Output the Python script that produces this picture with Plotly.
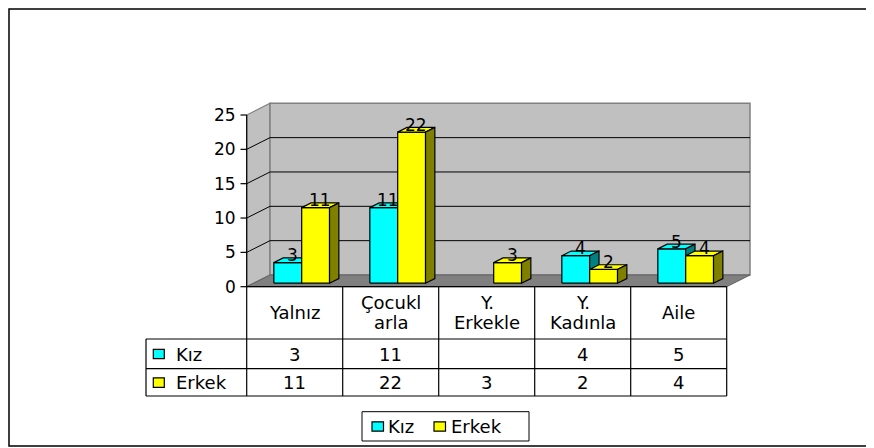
import plotly.graph_objects as go

# ---------------- data ----------------
categories = ["Yalnız", "Çocukl<br>arla", "Y.<br>Erkekle", "Y.<br>Kadınla", "Aile"]
series_names = ["Kız", "Erkek"]
kiz = [3, 11, None, 4, 5]
erkek = [11, 22, 3, 2, 4]
y_ticks = [0, 5, 10, 15, 20, 25]
y_max = 25

face_colors = ["#00FFFF", "#FFFF00"]
side_colors = ["#008080", "#808000"]
series_values = [kiz, erkek]

# ---------------- geometry (window pixels -> data units) ----------------
WIN_W, WIN_H = 874, 448
PAGE_OFF = 8                 # default body margin of the html page
W, H = WIN_W - PAGE_OFF, WIN_H - PAGE_OFF
X0, Y0 = 246.7, 286.7        # front axis origin (window pixels)
CAT, VAL = 96.0, 6.868       # pixels per category / per value unit


def X(px):
    return (px - X0) / CAT


def Y(py):
    return (Y0 - py) / VAL


DX = 23.3 / CAT              # depth of the 3D box
DY = 11.7 / VAL
BAR_W = 0.29
GROUP_START = (1 - 2 * BAR_W) / 2
F_OFF = 0.3                  # bar front offset (fraction of depth)
B_DEP = 0.4                  # bar depth (fraction of depth)
FONT = "DejaVu Sans"
FS = 17
FS_TABLE = 18
LINE_GAP = 19.7              # px between header text lines

fig = go.Figure()


def poly(xs, ys, fill, line_color="black", width=1.2):
    fig.add_trace(go.Scatter(
        x=list(xs) + [xs[0]], y=list(ys) + [ys[0]], mode="lines",
        fill="toself", fillcolor=fill,
        line=dict(color=line_color, width=width),
        hoverinfo="skip", showlegend=False))


def line(x0, y0, x1, y1, color="black", width=1.2):
    fig.add_shape(type="line", xref="x", yref="y", x0=x0, y0=y0, x1=x1, y1=y1,
                  line=dict(color=color, width=width), layer="above")


def text(x, y, s, xanchor="center", size=FS, xshift=0, yshift=0):
    fig.add_annotation(x=x, y=y, xref="x", yref="y", text=s, showarrow=False,
                       xanchor=xanchor, yanchor="middle", xshift=xshift, yshift=yshift,
                       font=dict(family=FONT, size=size, color="black"))


n = len(categories)

# outer frame
fig.add_shape(type="rect", xref="x", yref="y", x0=X(9), x1=X(900), y0=Y(446), y1=Y(9),
              line=dict(color="black", width=1.5), fillcolor="rgba(0,0,0,0)", layer="below")

# walls and floor
poly([0, DX, DX, 0], [0, DY, y_max + DY, y_max], "#C0C0C0", "#808080", 1.2)
poly([DX, n + DX, n + DX, DX], [DY, DY, y_max + DY, y_max + DY], "#C0C0C0", "#808080", 1.5)
poly([0, n, n + DX, DX], [0, 0, DY, DY], "#808080", "#606060", 1)

# gridlines
for v in y_ticks[1:-1]:
    fig.add_trace(go.Scatter(x=[0, DX, n + DX], y=[v, v + DY, v + DY], mode="lines",
                             line=dict(color="black", width=1), hoverinfo="skip",
                             showlegend=False))

# bars
for i in range(n):
    for s, vals in enumerate(series_values):
        v = vals[i]
        if v is None:
            continue
        xl = i + GROUP_START + s * BAR_W + F_OFF * DX
        xr = xl + BAR_W
        yb = F_OFF * DY
        yt = v + yb
        bx, by = B_DEP * DX, B_DEP * DY
        poly([xl, xr, xr, xl], [yb, yb, yt, yt], face_colors[s])
        poly([xl, xr, xr + bx, xl + bx], [yt, yt, yt + by, yt + by], face_colors[s])
        poly([xr, xr + bx, xr + bx, xr], [yb, yb + by, yt + by, yt], side_colors[s])

# value labels
for i in range(n):
    for s, vals in enumerate(series_values):
        v = vals[i]
        if v is None:
            continue
        xl = i + GROUP_START + s * BAR_W + F_OFF * DX
        xc = xl + BAR_W / 2 + 0.5 * B_DEP * DX
        yc = v + F_OFF * DY + 0.5 * B_DEP * DY
        text(xc, yc, str(v), yshift=5)

# value axis
line(0, 0, 0, y_max, "black", 1.2)
for t in y_ticks:
    line(X(240.5), t, 0, t, "black", 1.2)
    text(0, t, str(t), xanchor="right", xshift=-9)

# data table
y_head = Y(339)
y_r1 = Y(368.7)
y_r2 = Y(396)
for i in range(n + 1):
    line(i, 0, i, y_r2)
line(X(146), y_head, X(146), y_r2)
line(0, 0, n, 0)
for yy in (y_head, y_r1, y_r2):
    line(X(146), yy, n, yy)

HEAD_CY = 312.5
for i, c in enumerate(categories):
    parts = c.split("<br>")
    k = len(parts)
    for j, p in enumerate(parts):
        py = HEAD_CY + (j - (k - 1) / 2) * LINE_GAP
        text(i + 0.5, Y(py), p, size=FS_TABLE)

row_centers = [Y(354), Y(382.6)]
for s, vals in enumerate(series_values):
    yc = row_centers[s]
    fig.add_shape(type="rect", xref="x", yref="y", x0=X(153.3), x1=X(164.3),
                  y0=yc - 4.7 / VAL, y1=yc + 4.7 / VAL,
                  line=dict(color="black", width=1.2), fillcolor=face_colors[s], layer="above")
    text(X(174), yc, series_names[s], xanchor="left", size=FS_TABLE)
    for i, v in enumerate(vals):
        if v is not None:
            text(i + 0.5, yc, str(v), size=FS_TABLE)

# legend
fig.add_shape(type="rect", xref="x", yref="y", x0=X(362), x1=X(529), y0=Y(441), y1=Y(411.7),
              line=dict(color="black", width=1), fillcolor="white", layer="above")
leg_box_x = [372, 434]
leg_txt_x = [386, 449]
ly = Y(426.5)
for s in range(2):
    fig.add_shape(type="rect", xref="x", yref="y", x0=X(leg_box_x[s]), x1=X(leg_box_x[s] + 11.5),
                  y0=ly - 4.7 / VAL, y1=ly + 4.7 / VAL,
                  line=dict(color="black", width=1.2), fillcolor=face_colors[s], layer="above")
    text(X(leg_txt_x[s]), ly, series_names[s], xanchor="left", size=FS_TABLE)

fig.update_layout(
    width=W, height=H,
    margin=dict(l=0, r=0, t=0, b=0),
    paper_bgcolor="white", plot_bgcolor="white",
    showlegend=False,
    xaxis=dict(range=[X(PAGE_OFF), X(WIN_W)], visible=False, fixedrange=True),
    yaxis=dict(range=[Y(WIN_H), Y(PAGE_OFF)], visible=False, fixedrange=True),
)

fig.write_html("out.html")
